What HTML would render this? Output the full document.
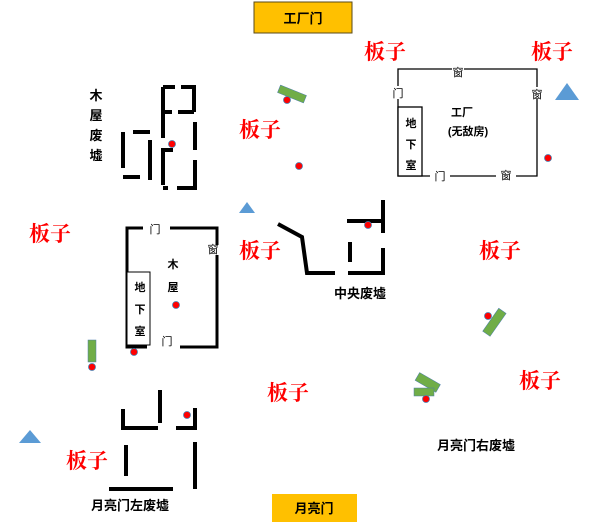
<!DOCTYPE html><html><head><meta charset="utf-8"><style>body{margin:0;background:#fff}svg{display:block}
.b{fill:#f00;font-size:21px;font-weight:bold;font-family:"Liberation Serif","Noto Serif CJK SC",serif;text-anchor:middle}
.t{fill:#000;font-size:13px;font-weight:bold;font-family:"Liberation Sans","Noto Sans CJK SC",sans-serif;text-anchor:middle}
.s{fill:#000;font-size:11px;font-family:"Liberation Sans","Noto Sans CJK SC",sans-serif;text-anchor:middle}
</style></head><body>
<svg width="600" height="522" viewBox="0 0 600 522">
<rect x="254" y="2" width="98" height="31" fill="#FFC000" stroke="#5a4a1a"/>
<text x="303" y="23" class="t" font-weight="normal">工厂门</text>
<rect x="272" y="494" width="85" height="28" fill="#FFC000"/>
<text x="314" y="513" class="t">月亮门</text>
<g stroke="#000" stroke-width="4" fill="none">
<path d="M163 87H175M181 87H194V112M163 87V138M163 112H172M178 112H194M195 122V150M163 185V150H173M177 188H195V160M163 188H168M123 132V168M133 132H150M150 140V180M123 177H140"/>
<path d="M278 224L302 237L307 273H335M348 273H383V248M350 242V262M347 221H383M383 200V233"/>
<path d="M123 409V428H158M160 390V423M176 428H195V408M126 445V476M195 442V489M109 489H173"/>
<path d="M143 228H127V347H147M170 228H217V245M217 255V347H180" stroke-width="3"/>
</g>
<rect x="127" y="272" width="23" height="73" fill="#fff" stroke="#000"/>
<text x="140" y="291" class="s" font-size="15" font-weight="bold">地</text><text x="140" y="313" class="s" font-size="15" font-weight="bold">下</text><text x="140" y="335" class="s" font-size="15" font-weight="bold">室</text>
<text x="155" y="233" class="s">门</text><text x="213" y="253" class="s">窗</text><text x="167" y="345" class="s">门</text>
<text x="173" y="268" class="s" font-size="15" font-weight="bold">木</text><text x="173" y="291" class="s" font-size="15" font-weight="bold">屋</text>
<g class="t" font-size="13"><text x="96" y="100">木</text><text x="96" y="120">屋</text><text x="96" y="140">废</text><text x="96" y="160">墟</text></g>
<g fill="none" stroke="#000" stroke-width="1.3"><path d="M398 86V69H537V87M537 99V176H516M496 176H450M430 176H398V99"/></g>
<rect x="398" y="107" width="24" height="69" fill="#fff" stroke="#000" stroke-width="1.3"/>
<text x="411" y="127" class="s" font-size="14" font-weight="bold">地</text><text x="411" y="148" class="s" font-size="14" font-weight="bold">下</text><text x="411" y="169" class="s" font-size="14" font-weight="bold">室</text>
<rect x="452" y="65" width="12" height="12" fill="#fff"/><text x="458" y="76" class="s">窗</text>
<rect x="392" y="86" width="12" height="12" fill="#fff"/><text x="398" y="97" class="s">门</text>
<rect x="531" y="87" width="12" height="12" fill="#fff"/><text x="537" y="98" class="s">窗</text>
<text x="440" y="180" class="s">门</text><text x="506" y="179" class="s">窗</text>
<text x="462" y="116" class="s" font-size="12" font-weight="bold">工厂</text><text x="468" y="135" class="s" font-size="12" font-weight="bold">(无敌房)</text>
<text x="360" y="298" class="t" font-size="12">中央废墟</text>
<text x="130" y="510" class="t" font-size="12">月亮门左废墟</text>
<text x="476" y="450" class="t" font-size="12">月亮门右废墟</text>
<g fill="#70AD47" stroke="#4a7cae" stroke-width="0.5">
<rect x="278" y="90" width="28" height="8" transform="rotate(22 292 94)"/>
<rect x="88" y="340" width="8" height="22"/>
<rect x="480" y="318" width="28" height="9" transform="rotate(-55 494 322)"/>
<rect x="416" y="378" width="24" height="9" transform="rotate(30 428 382)"/>
<rect x="414" y="388" width="20" height="8"/>
</g>
<g fill="#f00" stroke="#4a7cae" stroke-width="0.8">
<circle cx="172" cy="144" r="3.5"/><circle cx="287" cy="100" r="3.5"/><circle cx="299" cy="166" r="3.5"/>
<circle cx="176" cy="305" r="3.5"/><circle cx="134" cy="352" r="3.5"/><circle cx="92" cy="367" r="3.5"/>
<circle cx="368" cy="225" r="3.5"/><circle cx="548" cy="158" r="3.5"/><circle cx="488" cy="316" r="3.5"/>
<circle cx="426" cy="399" r="3.5"/><circle cx="187" cy="415" r="3.5"/>
</g>
<g fill="#5B9BD5"><path d="M247 202L255 213H239Z"/><path d="M567 83L579 100H555Z"/><path d="M30 430L41 443H19Z"/></g>
<g class="b"><text x="385" y="59">板子</text><text x="552" y="59">板子</text><text x="260" y="137">板子</text><text x="50" y="241">板子</text><text x="260" y="258">板子</text><text x="500" y="258">板子</text><text x="540" y="388">板子</text><text x="288" y="400">板子</text><text x="87" y="468">板子</text></g>
</svg></body></html>
